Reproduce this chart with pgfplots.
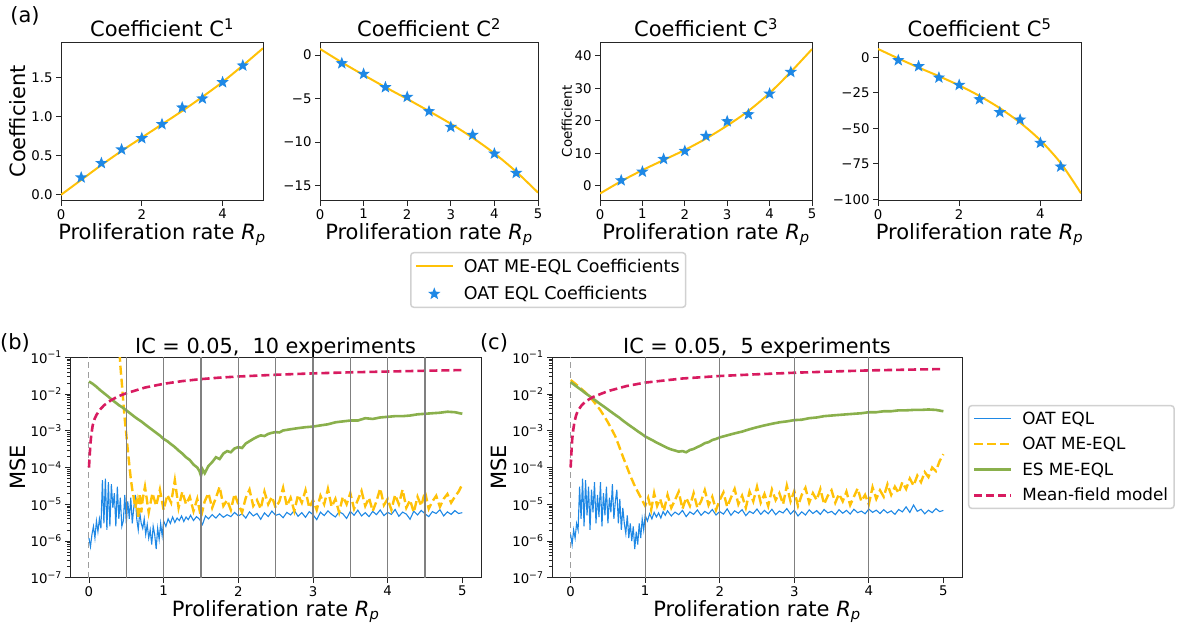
\documentclass[border=0pt]{standalone}
\usepackage{fontspec}
\setmainfont{DejaVu Sans}
\usepackage{pgfplots}
\pgfplotsset{compat=1.18}
\definecolor{cblue}{HTML}{1E88E5}
\definecolor{cyel}{HTML}{FFC107}
\definecolor{cgreen}{HTML}{8AB04C}
\definecolor{cpink}{HTML}{D81B60}
\pgfdeclareplotmark{fstar}{%
 \pgfpathmoveto{\pgfpointpolar{90}{\pgfplotmarksize}}%
 \pgfpathlineto{\pgfpointpolar{126}{0.42\pgfplotmarksize}}%
 \pgfpathlineto{\pgfpointpolar{162}{\pgfplotmarksize}}%
 \pgfpathlineto{\pgfpointpolar{198}{0.42\pgfplotmarksize}}%
 \pgfpathlineto{\pgfpointpolar{234}{\pgfplotmarksize}}%
 \pgfpathlineto{\pgfpointpolar{270}{0.42\pgfplotmarksize}}%
 \pgfpathlineto{\pgfpointpolar{306}{\pgfplotmarksize}}%
 \pgfpathlineto{\pgfpointpolar{342}{0.42\pgfplotmarksize}}%
 \pgfpathlineto{\pgfpointpolar{18}{\pgfplotmarksize}}%
 \pgfpathlineto{\pgfpointpolar{54}{0.42\pgfplotmarksize}}%
 \pgfpathclose
 \pgfusepathqfill
}
\pgfplotsset{
 every axis/.append style={
  scale only axis, anchor=south west,
  axis line style={black!85, line width=0.8pt},
  tick style={black!85, line width=0.8pt},
  major tick length=5pt, minor tick length=3pt,
  tick align=outside, tick pos=left,
  /pgf/number format/assume math mode=true,
  tick label style={font=\fontsize{13.3}{15}\selectfont},
  label style={font=\fontsize{21}{25}\selectfont},
  title style={font=\fontsize{21}{25}\selectfont, anchor=base, yshift=-1pt},
  xlabel style={at={(axis description cs:0.5,0)}, anchor=base, yshift=-38.6pt},
  xlabel={Proliferation rate {\itshape R}\textsubscript{\itshape p}},
 },
 longline/.style={legend image code/.code={\path (0pt,0pt) (45pt,0pt); \draw[mark repeat=2,mark phase=2,##1] plot coordinates {(0pt,0pt) (18pt,0pt) (37pt,0pt)};}},
 starleg/.style={legend image code/.code={\path (0pt,0pt) (45pt,0pt); \draw[##1] plot coordinates {(18.5pt,0pt)};}},
 coefline/.style={cyel, line width=2pt, smooth},
 coefstar/.style={only marks, mark=fstar, mark size=6.5pt, color=cblue},
}
\begin{document}
\begin{tikzpicture}[x=1pt,y=1pt]
\path[use as bounding box] (0,0) rectangle (1178,625);
\node[font=\fontsize{21}{25}\selectfont] at (25,609) {(a)};
\node[font=\fontsize{21}{25}\selectfont] at (15,282) {(b)};
\node[font=\fontsize{21}{25}\selectfont] at (494,282) {(c)};

% panel C1
\begin{axis}[at={(61pt,424.3pt)}, width=202pt, height=158.7pt,
 xmin=0, xmax=5, ymin=-0.075, ymax=1.95,
 xtick={0,2,4}, ytick={0,0.5,1,1.5}, yticklabels={0.0,0.5,1.0,1.5},
 title={Coefficient C\textsuperscript{1}},
 ylabel={Coefficient}, ylabel style={at={(axis description cs:-0.213,0.5)}, anchor=center}]
\addplot[coefline] coordinates {(0,0.0) (0.5,0.19) (1,0.38) (1.5,0.56) (2,0.73) (2.5,0.9) (3,1.07) (3.5,1.25) (4,1.44) (4.5,1.65) (5,1.87)};
\addplot[coefstar] coordinates {(0.5,0.221) (1,0.404) (1.5,0.578) (2,0.722) (2.5,0.901) (3,1.113) (3.5,1.228) (4,1.436) (4.5,1.649)};
\end{axis}

% panel C2
\begin{axis}[at={(320pt,424.3pt)}, width=218pt, height=158.7pt,
 xmin=0, xmax=5, ymin=-16.73, ymax=1.49,
 xtick={0,1,2,3,4,5}, ytick={0,-5,-10,-15}, yticklabels={0,−5,−10,−15},
 title={Coefficient C\textsuperscript{2}},
 legend style={at={(0.413,-0.323)}, anchor=north west, font=\fontsize{17.5}{20}\selectfont,
  draw=black!18, line width=1.5pt, rounded corners=3pt, inner xsep=4pt, inner ysep=4pt,
  row sep=9pt, nodes={inner sep=2pt}},
 legend cell align=left]
\addplot[coefline, longline] coordinates {(0,0.7) (0.5,-0.85) (1,-2.3) (1.5,-3.7) (2,-5.05) (2.5,-6.45) (3,-7.9) (3.5,-9.5) (4,-11.3) (4.5,-13.4) (5,-15.8)};
\addlegendentry{OAT ME-EQL Coefficients}
\addplot[coefstar, starleg] coordinates {(0.5,-0.96) (1,-2.18) (1.5,-3.71) (2,-4.82) (2.5,-6.47) (3,-8.27) (3.5,-9.18) (4,-11.33) (4.5,-13.55)};
\addlegendentry{OAT EQL Coefficients}
\end{axis}

% panel C3
\begin{axis}[at={(600pt,424.3pt)}, width=212pt, height=158.7pt,
 xmin=0, xmax=5, ymin=-4.6, ymax=44.2,
 xtick={0,1,2,3,4,5}, ytick={0,10,20,30,40},
 title={Coefficient C\textsuperscript{3}},
 ylabel={Coefficient}, ylabel style={at={(axis description cs:-0.156,0.5)}, anchor=center, font=\fontsize{13.4}{16}\selectfont}]
\addplot[coefline] coordinates {(0,-2.4) (0.5,1.4) (1,4.8) (1.5,7.9) (2,11.0) (2.5,14.5) (3,18.5) (3.5,23.0) (4,28.5) (4.5,35.0) (5,42.0)};
\addplot[coefstar] coordinates {(0.5,1.64) (1,4.31) (1.5,8.2) (2,10.67) (2.5,15.28) (3,19.8) (3.5,21.95) (4,28.3) (4.5,34.97)};
\end{axis}

% panel C5
\begin{axis}[at={(878pt,424.3pt)}, width=203pt, height=158.7pt,
 xmin=0, xmax=5, ymin=-101, ymax=10.8,
 xtick={0,2,4}, ytick={0,-25,-50,-75,-100}, yticklabels={0,−25,−50,−75,−100},
 title={Coefficient C\textsuperscript{5}}]
\addplot[coefline] coordinates {(0,5.9) (0.5,-0.8) (1,-7.2) (1.5,-13.3) (2,-19.8) (2.5,-27.2) (3,-35.8) (3.5,-46) (4,-58.5) (4.5,-74.5) (5,-95.8)};
\addplot[coefstar] coordinates {(0.5,-2.1) (1,-6.3) (1.5,-14.3) (2,-19.5) (2.5,-29.6) (3,-38.7) (3.5,-43.9) (4,-60.3) (4.5,-77.0)};
\end{axis}

% panel (b)
\begin{axis}[at={(70.3pt,47.3pt)}, width=410.7pt, height=220.4pt,
 ymode=log, xmin=-0.25, xmax=5.25, ymin=1e-7, ymax=1e-1,
 xtick={0,1,2,3,4,5},
 ytick={1e-7,1e-6,1e-5,1e-4,1e-3,1e-2,1e-1},
 yticklabels={10\textsuperscript{−7},10\textsuperscript{−6},10\textsuperscript{−5},10\textsuperscript{−4},10\textsuperscript{−3},10\textsuperscript{−2},10\textsuperscript{−1}},
 minor ytick={2e-7,3e-7,4e-7,5e-7,6e-7,7e-7,8e-7,9e-7,2e-6,3e-6,4e-6,5e-6,6e-6,7e-6,8e-6,9e-6,2e-5,3e-5,4e-5,5e-5,6e-5,7e-5,8e-5,9e-5,2e-4,3e-4,4e-4,5e-4,6e-4,7e-4,8e-4,9e-4,2e-3,3e-3,4e-3,5e-3,6e-3,7e-3,8e-3,9e-3,2e-2,3e-2,4e-2,5e-2,6e-2,7e-2,8e-2,9e-2},
 title={IC = 0.05,\ \ 10 experiments}, title style={font=\fontsize{20.8}{25}\selectfont, yshift=-1.5pt},
 ylabel={MSE}, ylabel style={at={(axis description cs:-0.1286,0.5)}, anchor=center}]
\addplot[forget plot, color=black!38, line width=1pt, dash pattern=on 6pt off 4pt] coordinates {(0,1e-7) (0,1e-1)};
\addplot[cblue, line width=1.1pt] coordinates {
(0.00,1.2e-6) (0.02,7e-7) (0.04,1.5e-6) (0.06,2.5e-6) (0.08,1.2e-6) (0.10,3.5e-6) (0.12,1.8e-6) (0.14,4e-6) (0.16,2.2e-6) (0.18,4.5e-5) (0.20,3e-6) (0.22,5e-5) (0.24,2e-6) (0.26,4e-5) (0.28,2.5e-6) (0.30,3.5e-5) (0.32,8e-6) (0.34,2e-5) (0.36,2.5e-6) (0.38,3e-5) (0.40,4e-6) (0.42,1.5e-5) (0.44,2.5e-6) (0.46,3.5e-6) (0.48,1.8e-5) (0.50,3e-6) (0.52,1.2e-5) (0.54,4e-6) (0.56,1.5e-5) (0.58,3e-6) (0.60,8e-6) (0.62,1.8e-5) (0.64,4e-6) (0.66,2e-6) (0.68,6e-6) (0.70,3e-6) (0.72,2.2e-6) (0.74,4e-6) (0.76,1.5e-6) (0.78,2.8e-6) (0.80,1.2e-6) (0.82,2e-6) (0.84,8e-7) (0.86,2.5e-6) (0.88,1.5e-6) (0.90,6e-7) (0.92,2.2e-6) (0.94,1.1e-6) (0.96,3e-6) (0.98,1.4e-6) (1.00,3.5e-6) (1.03,2.5e-6) (1.06,4e-6) (1.09,3e-6) (1.12,4.5e-6) (1.15,3.2e-6) (1.18,4.2e-6) (1.21,3.6e-6) (1.24,4.8e-6) (1.27,3.4e-6) (1.30,4.5e-6) (1.33,3.8e-6) (1.36,5e-6) (1.40,3.6e-6) (1.44,4.6e-6) (1.48,3.9e-6) (1.52,2.8e-6) (1.56,4.8e-6) (1.60,4e-6) (1.65,5.2e-6) (1.70,4.2e-6) (1.75,5.5e-6) (1.80,4.4e-6) (1.85,5.2e-6) (1.90,4.6e-6) (1.95,6e-6) (2.00,4.8e-6)
(2.05,5.5e-6) (2.10,4.2e-6) (2.15,6.2e-6) (2.20,4.8e-6) (2.25,5.6e-6) (2.30,3.9e-6) (2.35,5.8e-6) (2.40,4.6e-6) (2.45,6.5e-6) (2.50,5e-6) (2.55,5.4e-6) (2.60,4.3e-6) (2.65,6e-6) (2.70,5.1e-6) (2.75,6.8e-6) (2.80,4.7e-6) (2.85,5.9e-6) (2.90,4.4e-6) (2.95,6.3e-6) (3.00,5.2e-6) (3.05,3.8e-6) (3.10,6.1e-6) (3.15,4.9e-6) (3.20,6.6e-6) (3.25,5.3e-6) (3.30,4.5e-6) (3.35,6.2e-6) (3.40,5.5e-6) (3.45,4.1e-6) (3.50,6.4e-6) (3.55,5e-6) (3.60,6.9e-6) (3.65,4.8e-6) (3.70,5.9e-6) (3.75,4.6e-6) (3.80,6.4e-6) (3.85,5.2e-6) (3.90,7e-6) (3.95,4.9e-6) (4.00,6e-6) (4.05,5.3e-6) (4.10,7.2e-6) (4.15,4.7e-6) (4.20,6.1e-6) (4.25,5.4e-6) (4.30,3.9e-6) (4.35,6.5e-6) (4.40,5.1e-6) (4.45,6.8e-6) (4.50,5.5e-6) (4.55,4.6e-6) (4.60,6.3e-6) (4.65,5.6e-6) (4.70,7.1e-6) (4.75,4.8e-6) (4.80,6.2e-6) (4.85,5.3e-6) (4.90,6.7e-6) (4.95,5.6e-6) (5.00,5.9e-6)};
\addplot[cyel, line width=2.4pt, dash pattern=on 9pt off 4pt] coordinates {
(0.40,0.3) (0.42,0.06) (0.44,0.02) (0.46,0.006) (0.48,0.002) (0.50,8e-4) (0.52,3e-4) (0.54,1.2e-4) (0.56,5e-5) (0.58,2.5e-5) (0.60,1.5e-5) (0.62,8e-6) (0.64,1.2e-5) (0.66,4e-6) (0.68,2e-5) (0.70,6e-6) (0.72,1.4e-5)
(0.75,3e-5) (0.80,6e-6) (0.85,2e-5) (0.90,9e-6) (0.95,2.5e-5) (1.00,7e-6) (1.05,1.8e-5) (1.10,1.1e-5) (1.15,4.5e-5) (1.20,8e-6) (1.25,2.2e-5) (1.30,1e-5) (1.35,1.6e-5) (1.40,6.5e-6) (1.45,1.4e-5) (1.50,4.5e-6) (1.55,1.2e-5) (1.60,2e-5) (1.65,8e-6) (1.70,1.5e-5) (1.75,3e-5) (1.80,9e-6) (1.85,1.3e-5) (1.90,7e-6) (1.95,1.9e-5) (2.00,1e-5) (2.05,6e-6) (2.10,1.5e-5) (2.15,2.5e-5) (2.20,9e-6) (2.25,1.3e-5) (2.30,7.5e-6) (2.35,2.2e-5) (2.40,1e-5) (2.45,1.6e-5) (2.50,8e-6) (2.55,1.2e-5) (2.60,2.8e-5) (2.65,9e-6) (2.70,1.5e-5) (2.75,6.5e-6) (2.80,1.8e-5) (2.85,1.1e-5) (2.90,2.4e-5) (2.95,8e-6) (3.00,1.3e-5) (3.05,7e-6) (3.10,1.7e-5) (3.15,1e-5) (3.20,2.6e-5) (3.25,8.5e-6) (3.30,1.4e-5) (3.35,6e-6) (3.40,1.6e-5) (3.45,1e-5) (3.50,2e-5) (3.55,7.5e-6) (3.60,1.3e-5) (3.65,2.3e-5) (3.70,9e-6) (3.75,1.5e-5) (3.80,6.5e-6) (3.85,1.2e-5) (3.90,2.7e-5) (3.95,9.5e-6) (4.00,1.4e-5) (4.05,7e-6) (4.10,1.8e-5) (4.15,1e-5) (4.20,2.5e-5) (4.25,8e-6) (4.30,1.3e-5) (4.35,6e-6) (4.40,1.6e-5) (4.45,9e-6) (4.50,2.2e-5) (4.55,7.5e-6) (4.60,1.2e-5) (4.65,1.7e-5) (4.70,8.5e-6) (4.75,1.4e-5) (4.80,1.9e-5) (4.85,1.1e-5) (4.90,1.6e-5) (4.95,2.2e-5) (5.00,3.5e-5)};
\addplot[cgreen, line width=2.6pt] coordinates {
(0.00,0.022) (0.05,0.019) (0.10,0.0158) (0.15,0.0128) (0.20,0.0106) (0.25,0.0088) (0.30,0.0072) (0.35,0.0060) (0.40,0.0050) (0.45,0.0043) (0.50,0.0036) (0.55,0.0030) (0.60,0.0025) (0.65,0.0021) (0.70,0.0018) (0.75,0.0015) (0.80,0.00125) (0.85,0.00105) (0.90,0.00088) (0.95,0.00074) (1.00,0.00060) (1.05,0.00052) (1.10,0.00043) (1.15,0.00036) (1.20,0.00029) (1.25,0.00024) (1.30,0.00019) (1.35,0.00016) (1.40,0.00012) (1.45,0.0001) (1.48,0.00008) (1.50,0.00006) (1.52,0.00009) (1.55,0.00007) (1.60,0.00011) (1.65,0.00014) (1.70,0.00019) (1.75,0.00017) (1.80,0.00024) (1.85,0.00028) (1.90,0.00026) (1.95,0.00033) (2.00,0.00036) (2.05,0.00034) (2.10,0.00045) (2.15,0.00052) (2.20,0.0006) (2.25,0.00068) (2.30,0.00075) (2.35,0.00072) (2.40,0.00082) (2.45,0.00088) (2.50,0.00092) (2.55,0.0009) (2.60,0.00102) (2.70,0.0011) (2.80,0.00118) (2.90,0.00125) (3.00,0.0013) (3.10,0.0014) (3.20,0.0015) (3.30,0.0017) (3.40,0.0018) (3.50,0.0019) (3.60,0.0019) (3.70,0.0022) (3.80,0.0021) (3.90,0.0023) (4.00,0.0024) (4.10,0.0025) (4.20,0.0025) (4.30,0.0026) (4.40,0.0028) (4.50,0.0029) (4.60,0.0030) (4.70,0.0031) (4.80,0.0033) (4.90,0.0032) (5.00,0.0029)};
\addplot[cpink, line width=2.6pt, dash pattern=on 8pt off 4pt] coordinates {
(0,1e-4) (0.01,2.2e-4) (0.02,4.5e-4) (0.03,7.5e-4) (0.05,1.4e-3) (0.075,2.1e-3) (0.1,2.7e-3) (0.15,3.8e-3) (0.2,4.9e-3) (0.3,6.9e-3) (0.4,8.8e-3) (0.5,1.05e-2) (0.75,1.5e-2) (1,1.9e-2) (1.25,2.25e-2) (1.5,2.55e-2) (1.75,2.8e-2) (2,3.0e-2) (2.5,3.35e-2) (3,3.65e-2) (3.5,3.9e-2) (4,4.1e-2) (4.5,4.3e-2) (5,4.5e-2)};
\pgfplotsinvokeforeach{0.5,1,1.5,2,2.5,3,3.5,4,4.5}{\addplot[forget plot, color=black!50, line width=1.2pt] coordinates {(#1,1e-7) (#1,1e-1)};}
\end{axis}

% panel (c)
\begin{axis}[at={(552pt,47.3pt)}, width=410pt, height=220.4pt,
 ymode=log, xmin=-0.25, xmax=5.25, ymin=1e-7, ymax=1e-1,
 xtick={0,1,2,3,4,5},
 ytick={1e-7,1e-6,1e-5,1e-4,1e-3,1e-2,1e-1},
 yticklabels={10\textsuperscript{−7},10\textsuperscript{−6},10\textsuperscript{−5},10\textsuperscript{−4},10\textsuperscript{−3},10\textsuperscript{−2},10\textsuperscript{−1}},
 minor ytick={2e-7,3e-7,4e-7,5e-7,6e-7,7e-7,8e-7,9e-7,2e-6,3e-6,4e-6,5e-6,6e-6,7e-6,8e-6,9e-6,2e-5,3e-5,4e-5,5e-5,6e-5,7e-5,8e-5,9e-5,2e-4,3e-4,4e-4,5e-4,6e-4,7e-4,8e-4,9e-4,2e-3,3e-3,4e-3,5e-3,6e-3,7e-3,8e-3,9e-3,2e-2,3e-2,4e-2,5e-2,6e-2,7e-2,8e-2,9e-2},
 title={IC = 0.05,\ \ 5 experiments}, title style={font=\fontsize{20.8}{25}\selectfont, yshift=-1.5pt},
 ylabel={MSE}, ylabel style={at={(axis description cs:-0.1305,0.5)}, anchor=center},
 legend style={at={(1.0146,0.784)}, anchor=north west, font=\fontsize{16.8}{20}\selectfont,
  draw=black!18, line width=1.5pt, rounded corners=3pt, inner xsep=4pt, inner ysep=4pt,
  row sep=7.5pt, nodes={inner sep=2pt}},
 legend cell align=left]
\addplot[forget plot, color=black!38, line width=1pt, dash pattern=on 6pt off 4pt] coordinates {(0,1e-7) (0,1e-1)};
\addplot[cblue, line width=1.1pt, longline] coordinates {
(0.00,1.5e-6) (0.02,8e-7) (0.04,2e-6) (0.06,1.2e-6) (0.08,3e-6) (0.10,2e-6) (0.12,3e-5) (0.14,4e-6) (0.16,5e-5) (0.18,2.5e-6) (0.20,4.5e-5) (0.22,5e-6) (0.24,3e-5) (0.26,2e-6) (0.28,2.5e-5) (0.30,6e-6) (0.32,4e-5) (0.34,3e-6) (0.36,1.8e-5) (0.38,4.5e-6) (0.40,4e-5) (0.42,2.5e-6) (0.44,2e-5) (0.46,5e-6) (0.48,3e-5) (0.50,3e-6) (0.52,1.5e-5) (0.54,6e-6) (0.56,3.5e-5) (0.58,4e-6) (0.60,1.2e-5) (0.62,2.5e-5) (0.64,3e-6) (0.66,1.4e-5) (0.68,2e-6) (0.70,8e-6) (0.72,3e-6) (0.74,1.6e-6) (0.76,5e-6) (0.78,1.2e-6) (0.80,3e-6) (0.82,1e-6) (0.84,2.5e-6) (0.86,6e-7) (0.88,1.8e-6) (0.90,8e-7) (0.92,3e-6) (0.94,1.2e-6) (0.96,4e-6) (0.98,2e-6) (1.00,5e-6) (1.03,3.5e-6) (1.06,5.5e-6) (1.09,4e-6) (1.12,6e-6) (1.15,4.5e-6) (1.18,5.8e-6) (1.21,4.2e-6) (1.24,6.3e-6) (1.27,5e-6) (1.30,6.6e-6) (1.35,4.8e-6) (1.40,6.1e-6) (1.45,5.2e-6) (1.50,6.8e-6) (1.55,4.6e-6) (1.60,6.2e-6) (1.65,5.3e-6) (1.70,7e-6) (1.75,5e-6) (1.80,6.4e-6) (1.85,5.5e-6) (1.90,7.2e-6) (1.95,5.1e-6) (2.00,6.3e-6) (2.05,5.4e-6) (2.10,7.5e-6) (2.15,5e-6) (2.20,6.6e-6) (2.25,5.7e-6) (2.30,7.1e-6) (2.35,4.9e-6) (2.40,6.4e-6) (2.45,5.6e-6) (2.50,7.4e-6) (2.55,5.3e-6) (2.60,6.8e-6) (2.65,5.5e-6) (2.70,7.3e-6) (2.75,5.2e-6) (2.80,6.5e-6) (2.85,5.8e-6) (2.90,7.6e-6) (2.95,5.4e-6) (3.00,6.9e-6) (3.05,4.8e-6) (3.10,6.2e-6) (3.15,5.1e-6) (3.20,7e-6) (3.25,5.6e-6) (3.30,6.7e-6) (3.35,5.3e-6) (3.40,7.2e-6) (3.45,5.8e-6) (3.50,6.4e-6) (3.55,5.2e-6) (3.60,7.1e-6) (3.65,5.7e-6) (3.70,6.8e-6) (3.75,5.4e-6) (3.80,7.3e-6) (3.85,5.9e-6) (3.90,6.5e-6) (3.95,5.5e-6) (4.00,7.4e-6) (4.05,6e-6) (4.10,6.9e-6) (4.15,5.6e-6) (4.20,7.1e-6) (4.25,5.8e-6) (4.30,6.6e-6) (4.35,5.3e-6) (4.40,7.2e-6) (4.45,6.2e-6) (4.50,8.5e-6) (4.55,6e-6) (4.60,9.5e-6) (4.65,6.4e-6) (4.70,7.3e-6) (4.75,5.5e-6) (4.80,6.9e-6) (4.85,5.9e-6) (4.90,7.6e-6) (4.95,6.3e-6) (5.00,6.8e-6)};
\addlegendentry{OAT EQL}
\addplot[cyel, line width=2.4pt, dash pattern=on 9pt off 4pt, longline] coordinates {
(0.00,0.024) (0.05,0.02) (0.10,0.0165) (0.15,0.0135) (0.20,0.011) (0.25,0.0087) (0.30,0.0066) (0.35,0.0049) (0.40,0.0036) (0.45,0.0025) (0.50,0.0017) (0.55,0.0011) (0.60,7e-4) (0.65,3.8e-4) (0.70,2e-4) (0.75,1.1e-4) (0.80,6e-5) (0.85,3.5e-5) (0.90,2.2e-5) (0.95,1.4e-5) (1.00,9e-6) (1.04,1.5e-5) (1.08,7e-6) (1.12,2e-5) (1.16,9e-6) (1.20,1.4e-5) (1.25,6.5e-6) (1.30,1.8e-5) (1.35,8e-6) (1.40,1.3e-5) (1.45,2.2e-5) (1.50,7.5e-6) (1.55,1.5e-5) (1.60,9e-6) (1.65,2e-5) (1.70,8e-6) (1.75,1.2e-5) (1.80,2.4e-5) (1.85,9.5e-6) (1.90,1.6e-5) (1.95,7e-6) (2.00,1.3e-5) (2.05,2.1e-5) (2.10,8.5e-6) (2.15,1.5e-5) (2.20,2.6e-5) (2.25,1e-5) (2.30,1.7e-5) (2.35,8e-6) (2.40,2.2e-5) (2.45,1.2e-5) (2.50,3e-5) (2.55,1.1e-5) (2.60,1.9e-5) (2.65,9e-6) (2.70,2.5e-5) (2.75,1.3e-5) (2.80,2e-5) (2.85,1e-5) (2.90,3.2e-5) (2.95,1.2e-5) (3.00,2.3e-5) (3.05,9e-6) (3.10,1.8e-5) (3.15,2.8e-5) (3.20,1.1e-5) (3.25,2e-5) (3.30,1.3e-5) (3.35,2.6e-5) (3.40,1e-5) (3.45,1.7e-5) (3.50,2.4e-5) (3.55,1.1e-5) (3.60,1.9e-5) (3.65,1.2e-5) (3.70,2.2e-5) (3.75,9.5e-6) (3.80,1.6e-5) (3.85,2.7e-5) (3.90,1.2e-5) (3.95,1.8e-5) (4.00,1e-5) (4.05,2.9e-5) (4.10,1.4e-5) (4.15,2.4e-5) (4.20,1.6e-5) (4.25,3.5e-5) (4.30,1.8e-5) (4.35,3e-5) (4.40,2e-5) (4.45,4e-5) (4.50,2.6e-5) (4.55,5e-5) (4.60,3.2e-5) (4.65,6e-5) (4.70,4e-5) (4.75,7.5e-5) (4.80,5.5e-5) (4.85,1e-4) (4.90,8e-5) (4.95,1.5e-4) (5.00,2.3e-4)};
\addlegendentry{OAT ME-EQL}
\addplot[cgreen, line width=2.6pt, longline] coordinates {
(0.00,0.021) (0.05,0.0178) (0.10,0.0149) (0.15,0.0126) (0.20,0.0105) (0.25,0.0089) (0.30,0.0075) (0.35,0.0063) (0.40,0.0053) (0.45,0.0045) (0.50,0.0038) (0.55,0.0032) (0.60,0.0027) (0.65,0.0023) (0.70,0.0019) (0.75,0.0016) (0.80,0.00135) (0.85,0.00115) (0.90,0.00097) (0.95,0.00083) (1.00,0.0007) (1.05,0.00062) (1.10,0.00055) (1.15,0.00048) (1.20,0.00043) (1.25,0.00038) (1.30,0.00034) (1.35,0.00031) (1.40,0.00029) (1.45,0.00027) (1.50,0.00028) (1.55,0.00026) (1.60,0.0003) (1.65,0.00032) (1.70,0.00036) (1.75,0.0004) (1.80,0.00046) (1.85,0.00049) (1.90,0.00056) (1.95,0.0006) (2.00,0.00066) (2.10,0.00075) (2.20,0.00085) (2.30,0.00095) (2.40,0.0011) (2.50,0.00125) (2.60,0.0014) (2.70,0.00155) (2.80,0.0017) (2.90,0.0018) (3.00,0.00195) (3.10,0.002) (3.20,0.0022) (3.30,0.0023) (3.40,0.0025) (3.50,0.0026) (3.60,0.0027) (3.70,0.0028) (3.80,0.0029) (3.90,0.003) (4.00,0.0032) (4.10,0.0032) (4.20,0.0034) (4.30,0.0034) (4.40,0.0036) (4.50,0.0036) (4.60,0.0037) (4.70,0.0037) (4.80,0.0038) (4.90,0.0037) (5.00,0.0034)};
\addlegendentry{ES ME-EQL}
\addplot[cpink, line width=2.6pt, dash pattern=on 8pt off 4pt, longline] coordinates {
(0,1e-4) (0.01,2.5e-4) (0.02,5.5e-4) (0.03,9e-4) (0.05,1.7e-3) (0.075,2.7e-3) (0.1,3.6e-3) (0.15,5e-3) (0.2,6.3e-3) (0.3,8.3e-3) (0.4,1.0e-2) (0.5,1.2e-2) (0.75,1.65e-2) (1,2.05e-2) (1.5,2.65e-2) (2,3.1e-2) (2.5,3.45e-2) (3,3.8e-2) (3.5,4.1e-2) (4,4.4e-2) (4.5,4.6e-2) (5,4.8e-2)};
\addlegendentry{Mean-field model}
\pgfplotsinvokeforeach{1,2,3,4}{\addplot[forget plot, color=black!50, line width=1.2pt] coordinates {(#1,1e-7) (#1,1e-1)};}
\end{axis}
\end{tikzpicture}
\end{document}
